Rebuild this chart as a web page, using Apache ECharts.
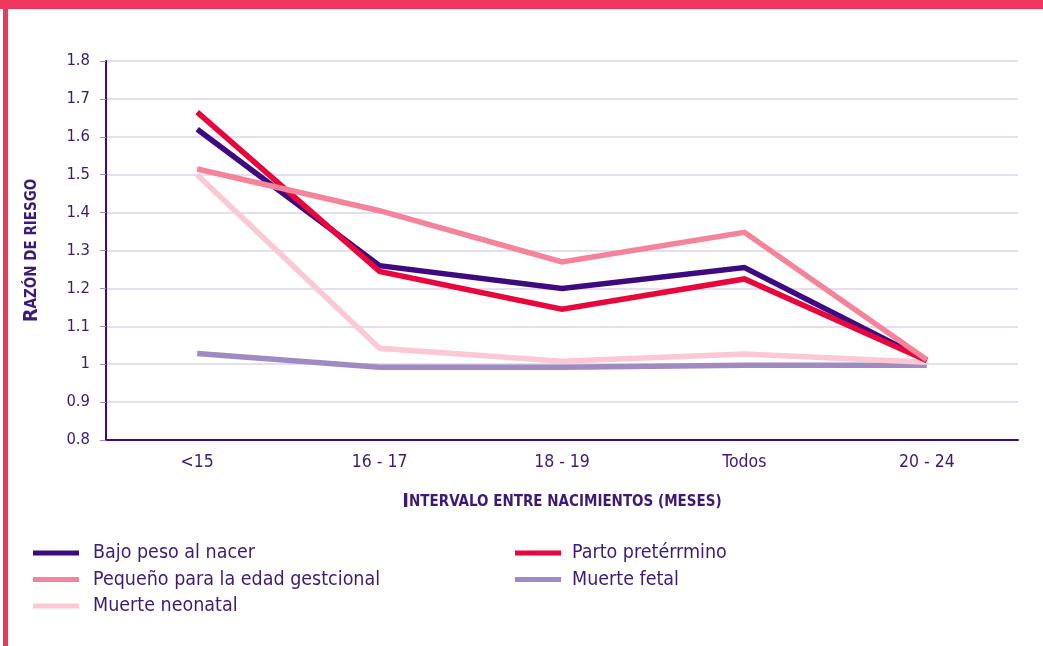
<!DOCTYPE html>
<html><head><meta charset="utf-8">
<script src="https://cdn.jsdelivr.net/npm/echarts@6/dist/echarts.min.js"></script>
<style>html,body{margin:0;padding:0;background:#fff}#c{width:1043px;height:646px}</style>
</head><body><div id="c"></div>
<script>
const categories = ['<15', '16 - 17', '18 - 19', 'Todos', '20 - 24'];
const bajoPeso = [1.62, 1.26, 1.20, 1.255, 1.01];
const partoPretermino = [1.665, 1.245, 1.145, 1.225, 1.01];
const pequeno = [1.515, 1.405, 1.27, 1.348, 1.012];
const muerteNeonatal = [1.50, 1.042, 1.008, 1.027, 1.005];
const muerteFetal = [1.028, 0.992, 0.992, 0.997, 0.997];
const yTicks = { min: 0.8, max: 1.8, step: 0.1 };

const purple = '#3E0A80';
const textCol = '#3D1A78';
const font = '"Liberation Sans Narrow", "DejaVu Sans Condensed", "Liberation Sans", sans-serif';

const chart = echarts.init(document.getElementById('c'));
const lineSeries = (name, data, color) => ({
  name, type: 'line', data, symbol: 'none',
  lineStyle: { color, width: 5.5, cap: 'butt', join: 'miter' },
  itemStyle: { color }
});
const legendBase = {
  orient: 'vertical', top: 543, itemWidth: 46, itemHeight: 5, itemGap: 6.5,
  padding: 0, icon: 'rect',
  lineStyle: { cap: 'butt' }
};
chart.setOption({
  animation: false,
  backgroundColor: '#fff',
  textStyle: { fontFamily: font },
  graphic: [
    { type: 'rect', shape: { x: 0, y: 0, width: 1043, height: 9 }, style: { fill: '#F0365C' }, z: 100 },
    { type: 'rect', shape: { x: 3, y: 0, width: 5, height: 646 }, style: { fill: '#F0365C' }, z: 100 }
  ],
  grid: { left: 106, right: 25, top: 61, bottom: 206 },
  xAxis: {
    type: 'category', data: categories, boundaryGap: true,
    axisLine: { lineStyle: { color: purple, width: 2 } },
    axisTick: { show: false },
    axisLabel: { color: textCol, fontSize: 17.5, margin: 13, fontFamily: font },
    name: '{a|I}{b|NTERVALO ENTRE NACIMIENTOS (MESES)}',
    nameLocation: 'middle', nameGap: 52,
    nameTextStyle: {
      rich: {
        a: { fontSize: 20, fontWeight: 'bold', color: textCol, fontFamily: font },
        b: { fontSize: 15, fontWeight: 'bold', color: textCol, fontFamily: font }
      }
    }
  },
  yAxis: {
    type: 'value', min: yTicks.min, max: yTicks.max, interval: yTicks.step,
    axisLine: { show: true, lineStyle: { color: purple, width: 2 } },
    axisTick: { show: true, length: 6, lineStyle: { color: '#9E8CC0', width: 1 } },
    splitLine: { lineStyle: { color: '#DCD3E8', width: 1.5 } },
    axisLabel: { color: textCol, fontSize: 16.5, margin: 16, fontFamily: font,
      formatter: v => String(+v.toFixed(1)) },
    name: '{a|R}{b|AZÓN DE RIESGO}',
    nameLocation: 'middle', nameGap: 64, nameRotate: 90,
    nameTextStyle: {
      rich: {
        a: { fontSize: 20, fontWeight: 'bold', color: textCol, fontFamily: font },
        b: { fontSize: 15, fontWeight: 'bold', color: textCol, fontFamily: font }
      }
    }
  },
  legend: [
    Object.assign({}, legendBase, {
      data: ['Bajo peso al nacer', 'Pequeño para la edad gestcional', 'Muerte neonatal'],
      left: 33,
      textStyle: { color: textCol, fontSize: 19.5, lineHeight: 20, padding: [0, 0, 0, 9], fontFamily: font } }),
    Object.assign({}, legendBase, {
      data: ['Parto pretérrmino', 'Muerte fetal'],
      left: 515,
      textStyle: { color: textCol, fontSize: 19.5, lineHeight: 20, padding: [0, 0, 0, 6], fontFamily: font } })
  ],
  series: [
    lineSeries('Muerte fetal', muerteFetal, '#A08AC2'),
    lineSeries('Muerte neonatal', muerteNeonatal, '#FBC8D3'),
    lineSeries('Bajo peso al nacer', bajoPeso, purple),
    lineSeries('Parto pretérrmino', partoPretermino, '#E8063C'),
    lineSeries('Pequeño para la edad gestcional', pequeno, '#F5839A')
  ]
});
</script></body></html>
